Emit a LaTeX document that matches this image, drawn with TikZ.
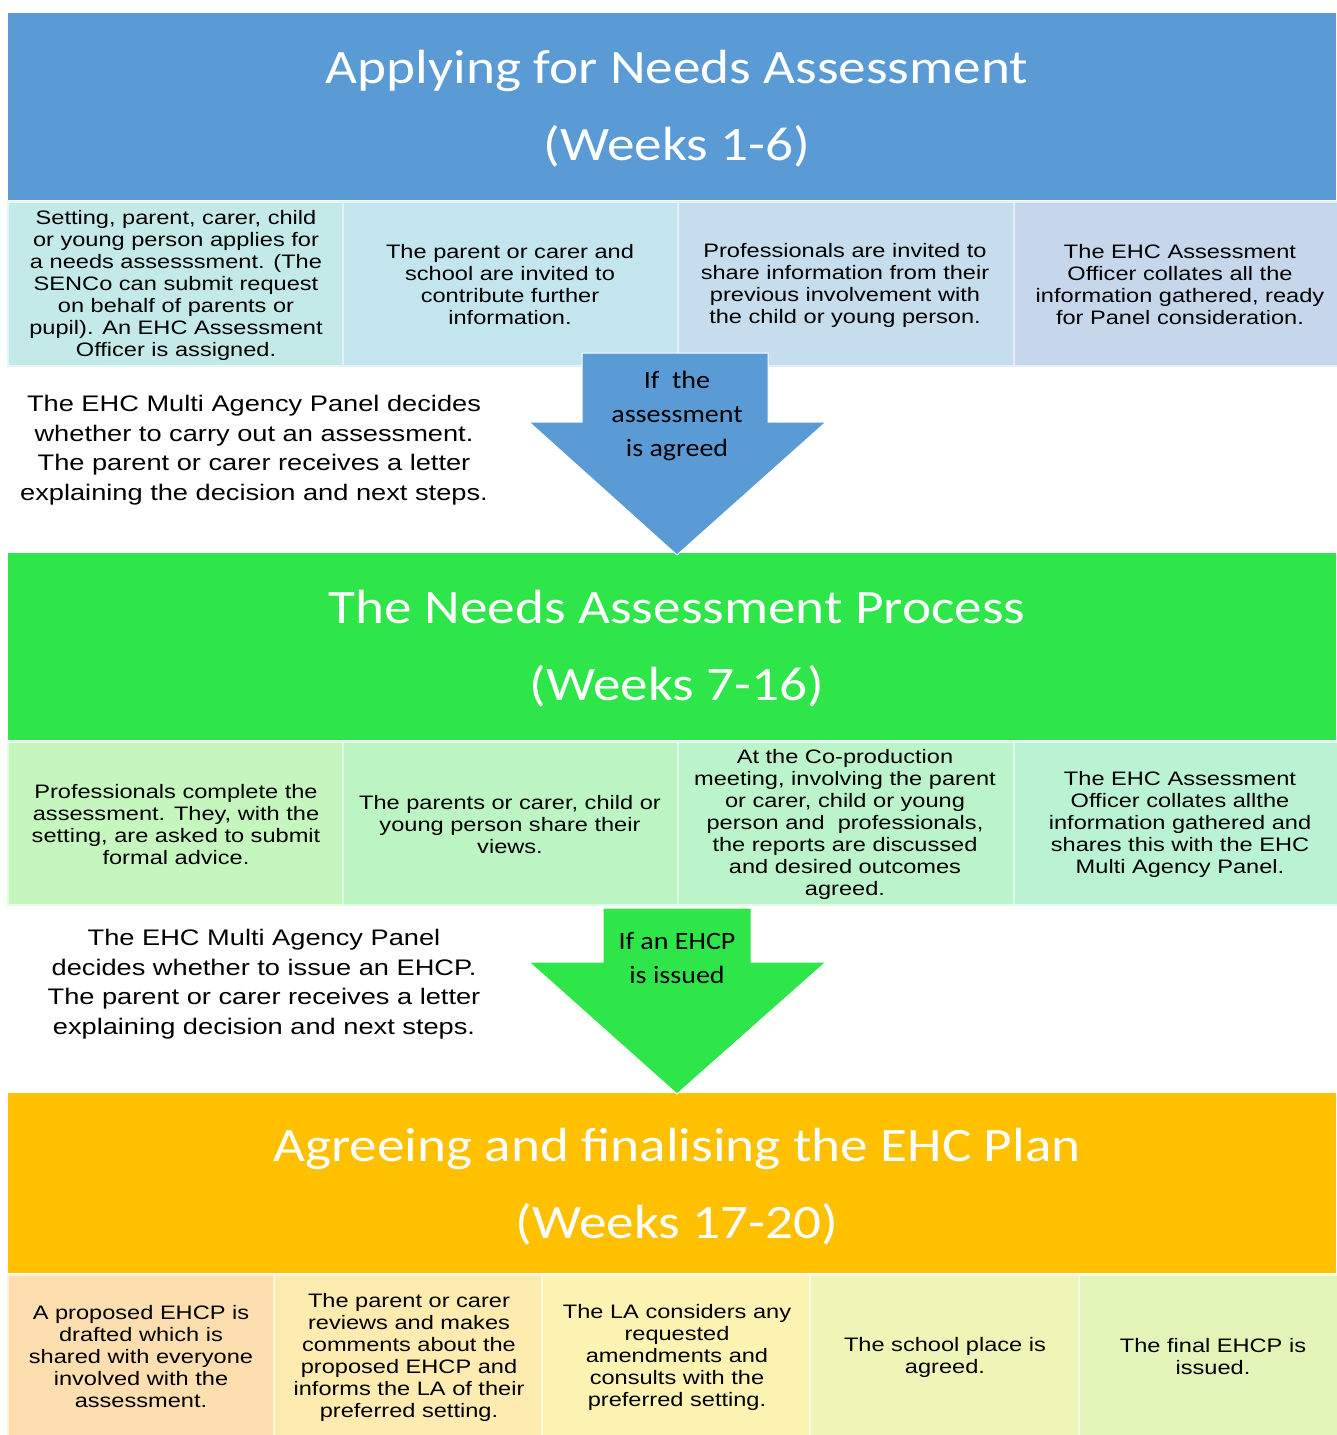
\documentclass[tikz,border=0pt]{standalone}
\usepackage{fontspec}
\newfontfamily\bodyf[FakeStretch=1.21]{Liberation Sans}
\newfontfamily\headf[FakeStretch=1.15]{Carlito}
\newfontfamily\arrf[FakeStretch=1.12]{Carlito}
\definecolor{hblue}{HTML}{5B9BD5}
\definecolor{hgreen}{HTML}{2FE64A}
\definecolor{horange}{HTML}{FFC000}
\definecolor{bA}{HTML}{C3EAE8}
\definecolor{bB}{HTML}{C3E5EE}
\definecolor{bC}{HTML}{C5DDEC}
\definecolor{bD}{HTML}{C6D7EC}
\definecolor{gA}{HTML}{C5F6BE}
\definecolor{gB}{HTML}{BCF5C3}
\definecolor{gC}{HTML}{BBF4CA}
\definecolor{gD}{HTML}{BAF3D4}
\definecolor{oA}{HTML}{FDDFAF}
\definecolor{oB}{HTML}{FEEBB0}
\definecolor{oC}{HTML}{FCF3B2}
\definecolor{oD}{HTML}{EEF5B7}
\definecolor{oE}{HTML}{E2F4B8}
\tikzset{
  celltext/.style={align=center, inner sep=0pt, text=black, font={\bodyf\fontsize{19.5}{22}\selectfont}},
  notetext/.style={align=center, inner sep=0pt, text=black, font={\bodyf\fontsize{22.5}{29.5}\selectfont}},
  headtext/.style={align=center, inner sep=0pt, text=white, font={\headf\fontsize{48}{77}\selectfont}},
  arrtext/.style={align=center, inner sep=0pt, text=black, font={\arrf\fontsize{25}{34}\selectfont}},
  cellbox/.style={draw=white!55!#1, line width=1.5pt, fill=#1},
  bigarrow/.style={fill=#1, draw=white, line width=1pt, line join=miter}
}
\begin{document}
\begin{tikzpicture}[x=1pt,y=-1pt]
\useasboundingbox (0,0) rectangle (1336,1435);
\fill[white] (0,0) rectangle (1336,1435);

% ---------- Section 1 ----------
\fill[hblue] (8,13) rectangle (1336,200);
\node[headtext] (h1) at (677,108.5) {Applying for Needs Assessment\\(Weeks 1-6)};
\path[cellbox=bA] (8,202) rectangle (343,366);
\path[cellbox=bB] (343,202) rectangle (678,366);
\path[cellbox=bC] (678,202) rectangle (1014,366);
\path[cellbox=bD] (1014,202) rectangle (1340,366);
\node[celltext] (a1) at (176,285.5) {Setting, parent, carer, child\\or young person applies for\\a needs assesssment. (The\\SENCo can submit request\\on behalf of parents or\\pupil). An EHC Assessment\\Officer is assigned.};
\node[celltext] (a2) at (510,285) {The parent or carer and\\school are invited to\\contribute further\\information.};
\node[celltext] (a3) at (845,285) {Professionals are invited to\\share information from their\\previous involvement with\\the child or young person.};
\node[celltext] (a4) at (1180,285) {The EHC Assessment\\Officer collates all the\\information gathered, ready\\for Panel consideration.};

\node[notetext] (n1) at (254,450) {The EHC Multi Agency Panel decides\\whether to carry out an assessment.\\The parent or carer receives a letter\\explaining the decision and next steps.};

% ---------- Section 2 ----------
\fill[hgreen] (8,553) rectangle (1336,740);
\node[headtext] (h2) at (677,648.5) {The Needs Assessment Process\\(Weeks 7-16)};
\path[cellbox=gA] (8,742) rectangle (343,905);
\path[cellbox=gB] (343,742) rectangle (678,905);
\path[cellbox=gC] (678,742) rectangle (1014,905);
\path[cellbox=gD] (1014,742) rectangle (1340,905);
\node[celltext] (b1) at (176,824.5) {Professionals complete the\\assessment. They, with the\\setting, are asked to submit\\formal advice.};
\node[celltext] (b2) at (510,824.5) {The parents or carer, child or\\young person share their\\views.};
\node[celltext] (b3) at (845,824.5) {At the Co-production\\meeting, involving the parent\\or carer, child or young\\person and\ \ professionals,\\the reports are discussed\\and desired outcomes\\agreed.};
\node[celltext] (b4) at (1180,824.5) {The EHC Assessment\\Officer collates allthe\\information gathered and\\shares this with the EHC\\Multi Agency Panel.};

\node[notetext] (n2) at (264,984) {The EHC Multi Agency Panel\\decides whether to issue an EHCP.\\The parent or carer receives a letter\\explaining decision and next steps.};

% ---------- Section 3 ----------
\fill[horange] (8,1093) rectangle (1336,1273);
\node[headtext] (h3) at (677,1187) {Agreeing and finalising the EHC Plan\\(Weeks 17-20)};
\path[cellbox=oA] (8,1275) rectangle (274,1440);
\path[cellbox=oB] (274,1275) rectangle (542,1440);
\path[cellbox=oC] (542,1275) rectangle (810,1440);
\path[cellbox=oD] (810,1275) rectangle (1079,1440);
\path[cellbox=oE] (1079,1275) rectangle (1340,1440);
\node[celltext] (c1) at (141,1357) {A proposed EHCP is\\drafted which is\\shared with everyone\\involved with the\\assessment.};
\node[celltext] (c2) at (409,1357) {The parent or carer\\reviews and makes\\comments about the\\proposed EHCP and\\informs the LA of their\\preferred setting.};
\node[celltext] (c3) at (677,1357) {The LA considers any\\requested\\amendments and\\consults with the\\preferred setting.};
\node[celltext] (c4) at (945,1357) {The school place is\\agreed.};
\node[celltext] (c5) at (1213,1357) {The final EHCP is\\issued.};

% ---------- Arrows ----------
\path[bigarrow=hblue] (582,353) -- (768,353) -- (768,422) -- (826,422) -- (677,555) -- (529,422) -- (582,422) -- cycle;
\node[arrtext] (t1) at (677,416) {If\ \ the\\assessment\\is agreed};
\path[bigarrow=hgreen] (603,908) -- (751,908) -- (751,962) -- (826,962) -- (677,1094) -- (529,962) -- (603,962) -- cycle;
\node[arrtext] (t2) at (677,958) {If an EHCP\\is issued};
\end{tikzpicture}
\end{document}
